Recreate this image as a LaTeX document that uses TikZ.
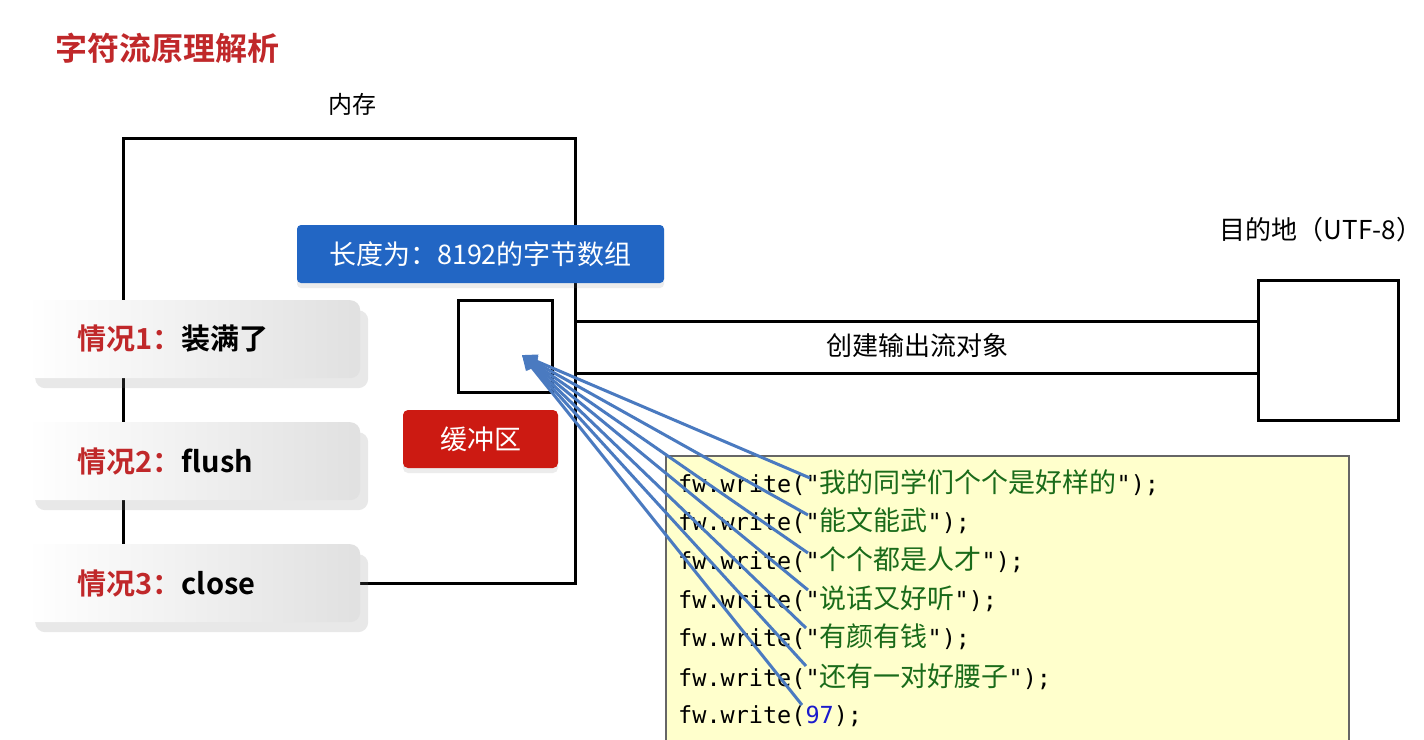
\documentclass[tikz,border=0pt]{standalone}
\usepackage{fontspec}
\setmainfont{Noto Sans CJK SC}[BoldFont={Noto Sans CJK SC Bold}]
\newfontfamily\cjk{Noto Sans CJK SC}
\setmonofont{DejaVu Sans Mono}
\usetikzlibrary{shadows,arrows.meta}
\definecolor{titlered}{HTML}{C0282A}
\definecolor{bannerblue}{HTML}{2266C4}
\definecolor{btnred}{HTML}{CC1A12}
\definecolor{arrowblue}{HTML}{4A7AC0}
\definecolor{codebg}{HTML}{FFFFCC}
\definecolor{codegreen}{HTML}{1A6B1A}
\definecolor{codeblue}{HTML}{1A1ACC}
\newcommand{\cn}[1]{{\cjk\fontsize{27}{27}\selectfont\color{codegreen}#1}}
\begin{document}
\begin{tikzpicture}[x=1pt,y=-1pt,
  line/.style={line width=3pt,black},
  card/.style={rounded corners=10pt,left color=white,right color=black!12,draw=none,
    drop shadow={shadow xshift=8pt,shadow yshift=-10pt,opacity=0.18},minimum width=333pt,minimum height=78pt,anchor=north west,inner sep=0pt},
  cardtxt/.style={anchor=west,font=\bfseries\fontsize{29}{29}\selectfont},
  code/.style={anchor=west,font=\ttfamily\fontsize{23.5}{23.5}\selectfont,inner sep=0pt},
  arr/.style={arrowblue,line width=3pt,-{Triangle[length=15pt,width=13pt]}}]
\useasboundingbox (0,0) rectangle (1424,739);
\fill[white] (0,0) rectangle (1424,739);
\node[anchor=west,text=titlered,font=\bfseries\fontsize{32}{32}\selectfont] (title) at (52,48) {字符流原理解析};
\node[font=\fontsize{24}{24}\selectfont] (mem) at (352,104) {内存};
\draw[line] (123,583) -- (123,138) -- (575,138) -- (575,583) -- cycle;
\node[fill=bannerblue,text=white,rounded corners=4pt,minimum width=367pt,minimum height=58pt,inner sep=0pt,
  font=\fontsize{27}{27}\selectfont,drop shadow={shadow xshift=0pt,shadow yshift=-5pt,opacity=0.15}] (banner) at (480.5,254) {长度为：8192的字节数组};
\node[draw,line width=3pt,minimum width=94pt,minimum height=92pt,inner sep=0pt] (buf) at (505,346) {};
\coordinate (tip) at (522,355);
\node[fill=btnred,text=white,rounded corners=5pt,minimum width=155pt,minimum height=58pt,inner sep=0pt,
  font=\fontsize{27}{27}\selectfont,drop shadow={shadow xshift=0pt,shadow yshift=-5pt,opacity=0.15}] (btn) at (480.5,439) {缓冲区};
\node[draw,line width=3pt,minimum width=140pt,minimum height=140pt,inner sep=0pt] (dest) at (1328,350) {};
\node[font=\fontsize{26}{26}\selectfont] (destlbl) at (1321,230) {目的地（UTF-8）};
\draw[line] (575,321) -- (1258,321);
\draw[line] (575,373) -- (1258,373);
\node[font=\fontsize{26}{26}\selectfont] (stream) at (917,346) {创建输出流对象};
\node[fill=codebg,draw=black!60,line width=1.5pt,anchor=north west,minimum width=683pt,minimum height=300pt,inner sep=0pt] (codebox) at (665,455) {};
\node[code] (c1) at (678,483) {fw.write("\cn{我的同学们个个是好样的}");};
\node[code] (c2) at (678,521) {fw.write("\cn{能文能武}");};
\node[code] (c3) at (678,560) {fw.write("\cn{个个都是人才}");};
\node[code] (c4) at (678,599) {fw.write("\cn{说话又好听}");};
\node[code] (c5) at (678,637) {fw.write("\cn{有颜有钱}");};
\node[code] (c6) at (678,677) {fw.write("\cn{还有一对好腰子}");};
\node[code] (c7) at (678,716) {fw.write(\textcolor{codeblue}{97});};
\coordinate (s1) at (810,478);
\coordinate (s2) at (808,515);
\coordinate (s3) at (808,553);
\coordinate (s4) at (808,590);
\coordinate (s5) at (806,628);
\coordinate (s6) at (806,666);
\coordinate (s7) at (802,705);
\foreach \s in {s1,s2,s3,s4,s5,s6,s7} \draw[arr] (\s) -- (tip);
\node[card] (k1) at (27,300) {};
\node[card] (k2) at (27,422) {};
\node[card] (k3) at (27,544) {};
\node[cardtxt] (t1) at (74,339) {\textcolor{titlered}{情况1：}装满了};
\node[cardtxt] (t2) at (74,461) {\textcolor{titlered}{情况2：}flush};
\node[cardtxt] (t3) at (74,583) {\textcolor{titlered}{情况3：}close};
\end{tikzpicture}
\end{document}
